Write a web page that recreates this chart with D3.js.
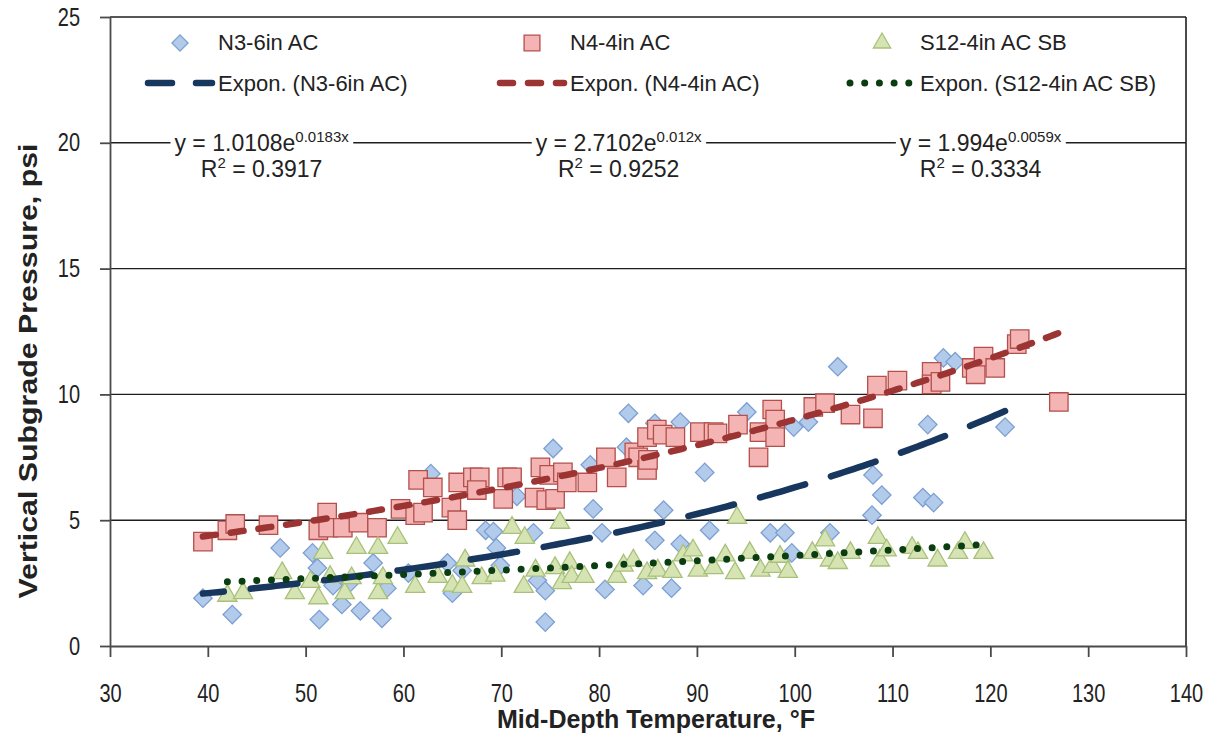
<!DOCTYPE html>
<html>
<head>
<meta charset="utf-8">
<script src="https://cdn.jsdelivr.net/npm/d3@7"></script>
<style>
  body { margin: 0; background: #fff; }
  text { font-family: "Liberation Sans", Arial, sans-serif; fill: #222; }
</style>
</head>
<body>
<div id="chart"></div>
<script>
// ---- data (temperature °F, pressure psi) ----
const n3Points = [
  [39.5,1.9],[42.5,1.25],[47.4,3.9],[50.7,3.7],[51.2,3.1],[51.4,1.05],[52.8,2.4],[53.7,1.65],
  [54.5,2.5],[55.6,1.4],[56.9,3.3],[57.8,1.1],[58.3,2.3],[60.5,2.9],[62.8,6.85],[64.5,3.3],
  [65,2.1],[66,3.0],[68.4,4.6],[69.2,4.55],[69.5,3.9],[69.9,3.2],[71.6,5.95],[73.3,4.5],
  [73.7,2.6],[74.5,2.2],[74.5,0.95],[75.3,7.85],[79.1,7.2],[79.4,5.45],[80.3,4.5],[80.6,2.25],
  [82.8,7.9],[83,9.25],[84.5,2.4],[85.7,4.2],[85.7,8.85],[86.6,5.4],[87.4,2.3],[88.3,4.05],
  [88.3,8.9],[90.8,6.9],[91.3,4.6],[95.1,9.3],[97.5,4.5],[99,4.5],[99.7,3.7],[99.9,8.7],
  [101.4,8.9],[103.6,4.5],[104.4,11.1],[107.9,5.2],[108,6.8],[108.9,6.0],[113.1,5.9],
  [113.6,8.8],[114.2,5.7],[115.2,11.45],[116.4,11.3],[121.5,8.7]
];
const n4Points = [
  [39.5,4.15],[42,4.6],[42.8,4.85],[46.2,4.8],[51.3,4.6],[52.2,5.3],[52.3,4.7],[53.8,4.7],
  [55.4,4.9],[57.3,4.7],[59.7,5.45],[61.2,5.2],[61.5,6.6],[62,5.3],[63,6.3],[64.9,5.5],
  [65.5,5.0],[65.6,6.5],[67.1,6.7],[67.8,6.7],[67.5,6.2],[70.2,5.85],[70.6,6.7],[71.1,6.7],
  [73.4,5.9],[74,7.1],[74.6,5.8],[74.9,6.8],[75.5,5.85],[76.3,6.9],[76.7,6.5],[78.8,6.5],
  [80.7,7.5],[81.8,6.7],[83.6,7.7],[84,7.5],[84.9,8.3],[84.9,7.0],[85,7.4],[85.9,8.6],
  [86.5,8.4],[87.8,8.3],[90.3,8.5],[91.7,8.5],[92.1,8.45],[94.2,8.8],[96.3,7.5],[96.4,8.5],
  [97.7,9.4],[98,9.0],[98,8.3],[101.9,9.5],[103.1,9.65],[105.7,9.2],[108,9.05],[108.4,10.35],
  [110.5,10.55],[114,10.9],[114,10.4],[114.9,10.5],[118.1,11.05],[118.5,10.8],[119.3,11.5],
  [120.5,11.05],[122.7,12.0],[123,12.2],[127,9.7]
];
const s12Points = [
  [42,2.0],[43.6,2.1],[47.6,2.9],[48.9,2.1],[50.5,2.55],[51.3,1.9],[51.8,3.7],[52.5,2.75],
  [54,2.1],[54.7,2.7],[55.2,3.9],[57.4,3.9],[57.4,2.1],[57.9,2.7],[59.4,4.3],[61.2,2.35],
  [63.5,2.75],[65,2.4],[66,2.35],[66.3,3.4],[68,2.7],[69.4,2.8],[71.1,4.7],[72.4,4.3],
  [72.3,2.35],[73.5,3.0],[75.5,3.1],[76,4.9],[76.2,2.5],[77,3.3],[77.2,2.75],[78.5,2.75],
  [81.8,2.75],[82.5,3.2],[83.5,3.4],[84.9,2.9],[86,3.0],[87.5,2.95],[88.6,3.6],[89.6,3.8],
  [90.1,3.0],[91.7,3.1],[92.9,3.6],[94.1,5.1],[93.9,2.9],[95.4,3.7],[96.5,3.0],[97.7,3.15],
  [98.5,3.55],[99.3,2.95],[101.8,3.7],[103.1,4.2],[103.6,3.4],[104.4,3.3],[105.7,3.7],
  [108.5,4.3],[108.7,3.4],[109.4,3.8],[112,3.9],[112.6,3.7],[114.6,3.4],[116.7,3.7],
  [117.4,4.1],[119.3,3.7]
];

// exponential trendlines shown on the chart: y = a * e^(b x)
const trendA = [1.0108, 2.7102, 1.994];
const trendB = [0.0183, 0.012, 0.0059];
const seriesNames = ["N3-6in AC", "N4-4in AC", "S12-4in AC SB"];
const eqMain = ["y = 1.0108e", "y = 2.7102e", "y = 1.994e"];
const eqExp = ["0.0183x", "0.012x", "0.0059x"];
const eqR2 = ["0.3917", "0.9252", "0.3334"];

const xTicks = [30, 40, 50, 60, 70, 80, 90, 100, 110, 120, 130, 140];
const yTicks = [0, 5, 10, 15, 20, 25];

// ---- layout ----
const margin = {top: 17, right: 31, bottom: 96, left: 110};
const width = 1217 - margin.left - margin.right;
const height = 742 - margin.top - margin.bottom;

const svg = d3.select("#chart").append("svg")
    .attr("width", 1217)
    .attr("height", 742)
  .append("g")
    .attr("transform", "translate(" + margin.left + "," + margin.top + ")");

const x = d3.scaleLinear().domain([30, 140]).range([0, width]);
const y = d3.scaleLinear().domain([0, 25]).range([height, 0]);

// gridlines
svg.append("g")
    .selectAll("line")
    .data(yTicks.filter(d => d > 0))
    .enter().append("line")
    .attr("x1", 0).attr("x2", width)
    .attr("y1", d => y(d)).attr("y2", d => y(d))
    .attr("stroke", "#1e1e1e")
    .attr("stroke-width", 1.4);

// right border of plot area
svg.append("line")
    .attr("x1", width).attr("x2", width)
    .attr("y1", 0).attr("y2", height)
    .attr("stroke", "#1e1e1e")
    .attr("stroke-width", 1.6);

// axes
const xAxis = svg.append("g")
    .attr("transform", "translate(0," + height + ")")
    .call(d3.axisBottom(x).tickValues(xTicks).tickSize(11).tickPadding(27).tickSizeOuter(0));
const yAxis = svg.append("g")
    .call(d3.axisLeft(y).tickValues(yTicks).tickSize(10).tickPadding(20).tickSizeOuter(0));
[xAxis, yAxis].forEach(g => {
  g.selectAll("path, line").attr("stroke", "#4a4a4a").attr("stroke-width", 1.8);
  g.selectAll("text").style("font-size", "25px").attr("fill", "#222")
    .style("font-family", "'Liberation Sans', Arial, sans-serif");
});
// condensed look of the tick labels
const squeeze = 0.8;
xAxis.selectAll(".tick text").attr("transform", "scale(" + squeeze + ",1)");
yAxis.selectAll(".tick text")
    .attr("x", -30 / squeeze)
    .attr("transform", "scale(" + squeeze + ",1)");

// axis titles
svg.append("text")
    .attr("x", 546).attr("y", height + 82)
    .attr("text-anchor", "middle")
    .style("font-size", "25px").style("font-weight", "bold")
    .text("Mid-Depth Temperature, °F");
svg.append("text")
    .attr("transform", "translate(" + (-73) + "," + 354 + ") rotate(-90)")
    .attr("text-anchor", "middle")
    .attr("textLength", 455)
    .attr("lengthAdjust", "spacingAndGlyphs")
    .style("font-size", "25px").style("font-weight", "bold")
    .text("Vertical Subgrade Pressure, psi");

// markers
const styles = [
  {fill: "#b3cbea", stroke: "#7c9fd3", symbol: d3.symbolSquare, size: 170, rotate: 45},
  {fill: "#f3b4b3", stroke: "#b34f4d", symbol: d3.symbolSquare, size: 340, rotate: 0},
  {fill: "#d6e4b4", stroke: "#a9c07a", symbol: d3.symbolTriangle, size: 160, rotate: 0}
];
const trendStyles = [
  {color: "#17375e", width: 6.5, dash: "47,27", offset: 26},
  {color: "#9b3432", width: 6.5, dash: "13,15", offset: 0},
  {color: "#0a3d10", width: 7, dash: "0,14.7", offset: 0}
];
const allSeries = [n3Points, n4Points, s12Points];

allSeries.forEach((pts, i) => {
  const st = styles[i];
  svg.append("g").selectAll("path")
      .data(pts)
      .enter().append("path")
      .attr("d", d3.symbol().type(st.symbol).size(st.size))
      .attr("transform", d => "translate(" + x(d[0]) + "," + y(d[1]) + ") rotate(" + st.rotate + ")")
      .attr("fill", st.fill)
      .attr("stroke", st.stroke)
      .attr("stroke-width", 1.3);
});

// trendlines over the data range of each series
allSeries.forEach((pts, i) => {
  const ext = d3.extent(pts, d => d[0]);
  const xs = d3.range(ext[0], ext[1], 0.5).concat([ext[1]]);
  const line = d3.line()
      .x(t => x(t))
      .y(t => y(trendA[i] * Math.exp(trendB[i] * t)));
  svg.append("path")
      .datum(xs)
      .attr("d", line)
      .attr("fill", "none")
      .attr("stroke", trendStyles[i].color)
      .attr("stroke-width", trendStyles[i].width)
      .attr("stroke-linecap", "round")
      .attr("stroke-dasharray", trendStyles[i].dash)
      .attr("stroke-dashoffset", trendStyles[i].offset);
});

// equation labels with white background over the 20 psi gridline
const eqX = [45.5, 82.0, 119.0];
eqMain.forEach((txt, i) => {
  const g = svg.append("g");
  const bg = g.append("rect").attr("fill", "#fff");
  const t1 = g.append("text")
      .attr("x", x(eqX[i])).attr("y", y(20) + 8)
      .attr("text-anchor", "middle")
      .style("font-size", "23px");
  t1.append("tspan").text(txt);
  t1.append("tspan").attr("dy", -9).style("font-size", "15px").text(eqExp[i]);
  const t2 = g.append("text")
      .attr("x", x(eqX[i])).attr("y", y(20) + 34)
      .attr("text-anchor", "middle")
      .style("font-size", "23px");
  t2.append("tspan").text("R");
  t2.append("tspan").attr("dy", -9).style("font-size", "15px").text("2");
  t2.append("tspan").attr("dy", 9).text(" = " + eqR2[i]);
  const bb = t1.node().getBBox();
  bg.attr("x", bb.x - 4).attr("y", bb.y).attr("width", bb.width + 8).attr("height", bb.height);
});

// legend
const legX = [35, 387, 737];
const legend = svg.append("g");
seriesNames.forEach((name, i) => {
  const st = styles[i];
  const ts = trendStyles[i];
  const lx = legX[i];
  legend.append("path")
      .attr("d", d3.symbol().type(st.symbol).size(i === 1 ? 250 : 130))
      .attr("transform", "translate(" + (lx + 35) + "," + 26 + ") rotate(" + st.rotate + ")")
      .attr("fill", st.fill).attr("stroke", st.stroke).attr("stroke-width", 1.3);
  legend.append("text")
      .attr("x", lx + 73).attr("y", 33)
      .style("font-size", "22px")
      .text(name);
  legend.append("line")
      .attr("x1", lx + 3).attr("x2", lx + 67)
      .attr("y1", 66).attr("y2", 66)
      .attr("stroke", ts.color)
      .attr("stroke-width", ts.width)
      .attr("stroke-linecap", "round")
      .attr("stroke-dasharray", i === 0 ? "24,24" : ts.dash);
  legend.append("text")
      .attr("x", lx + 73).attr("y", 74)
      .style("font-size", "22px")
      .text("Expon. (" + name + ")");
});
</script>
</body>
</html>
